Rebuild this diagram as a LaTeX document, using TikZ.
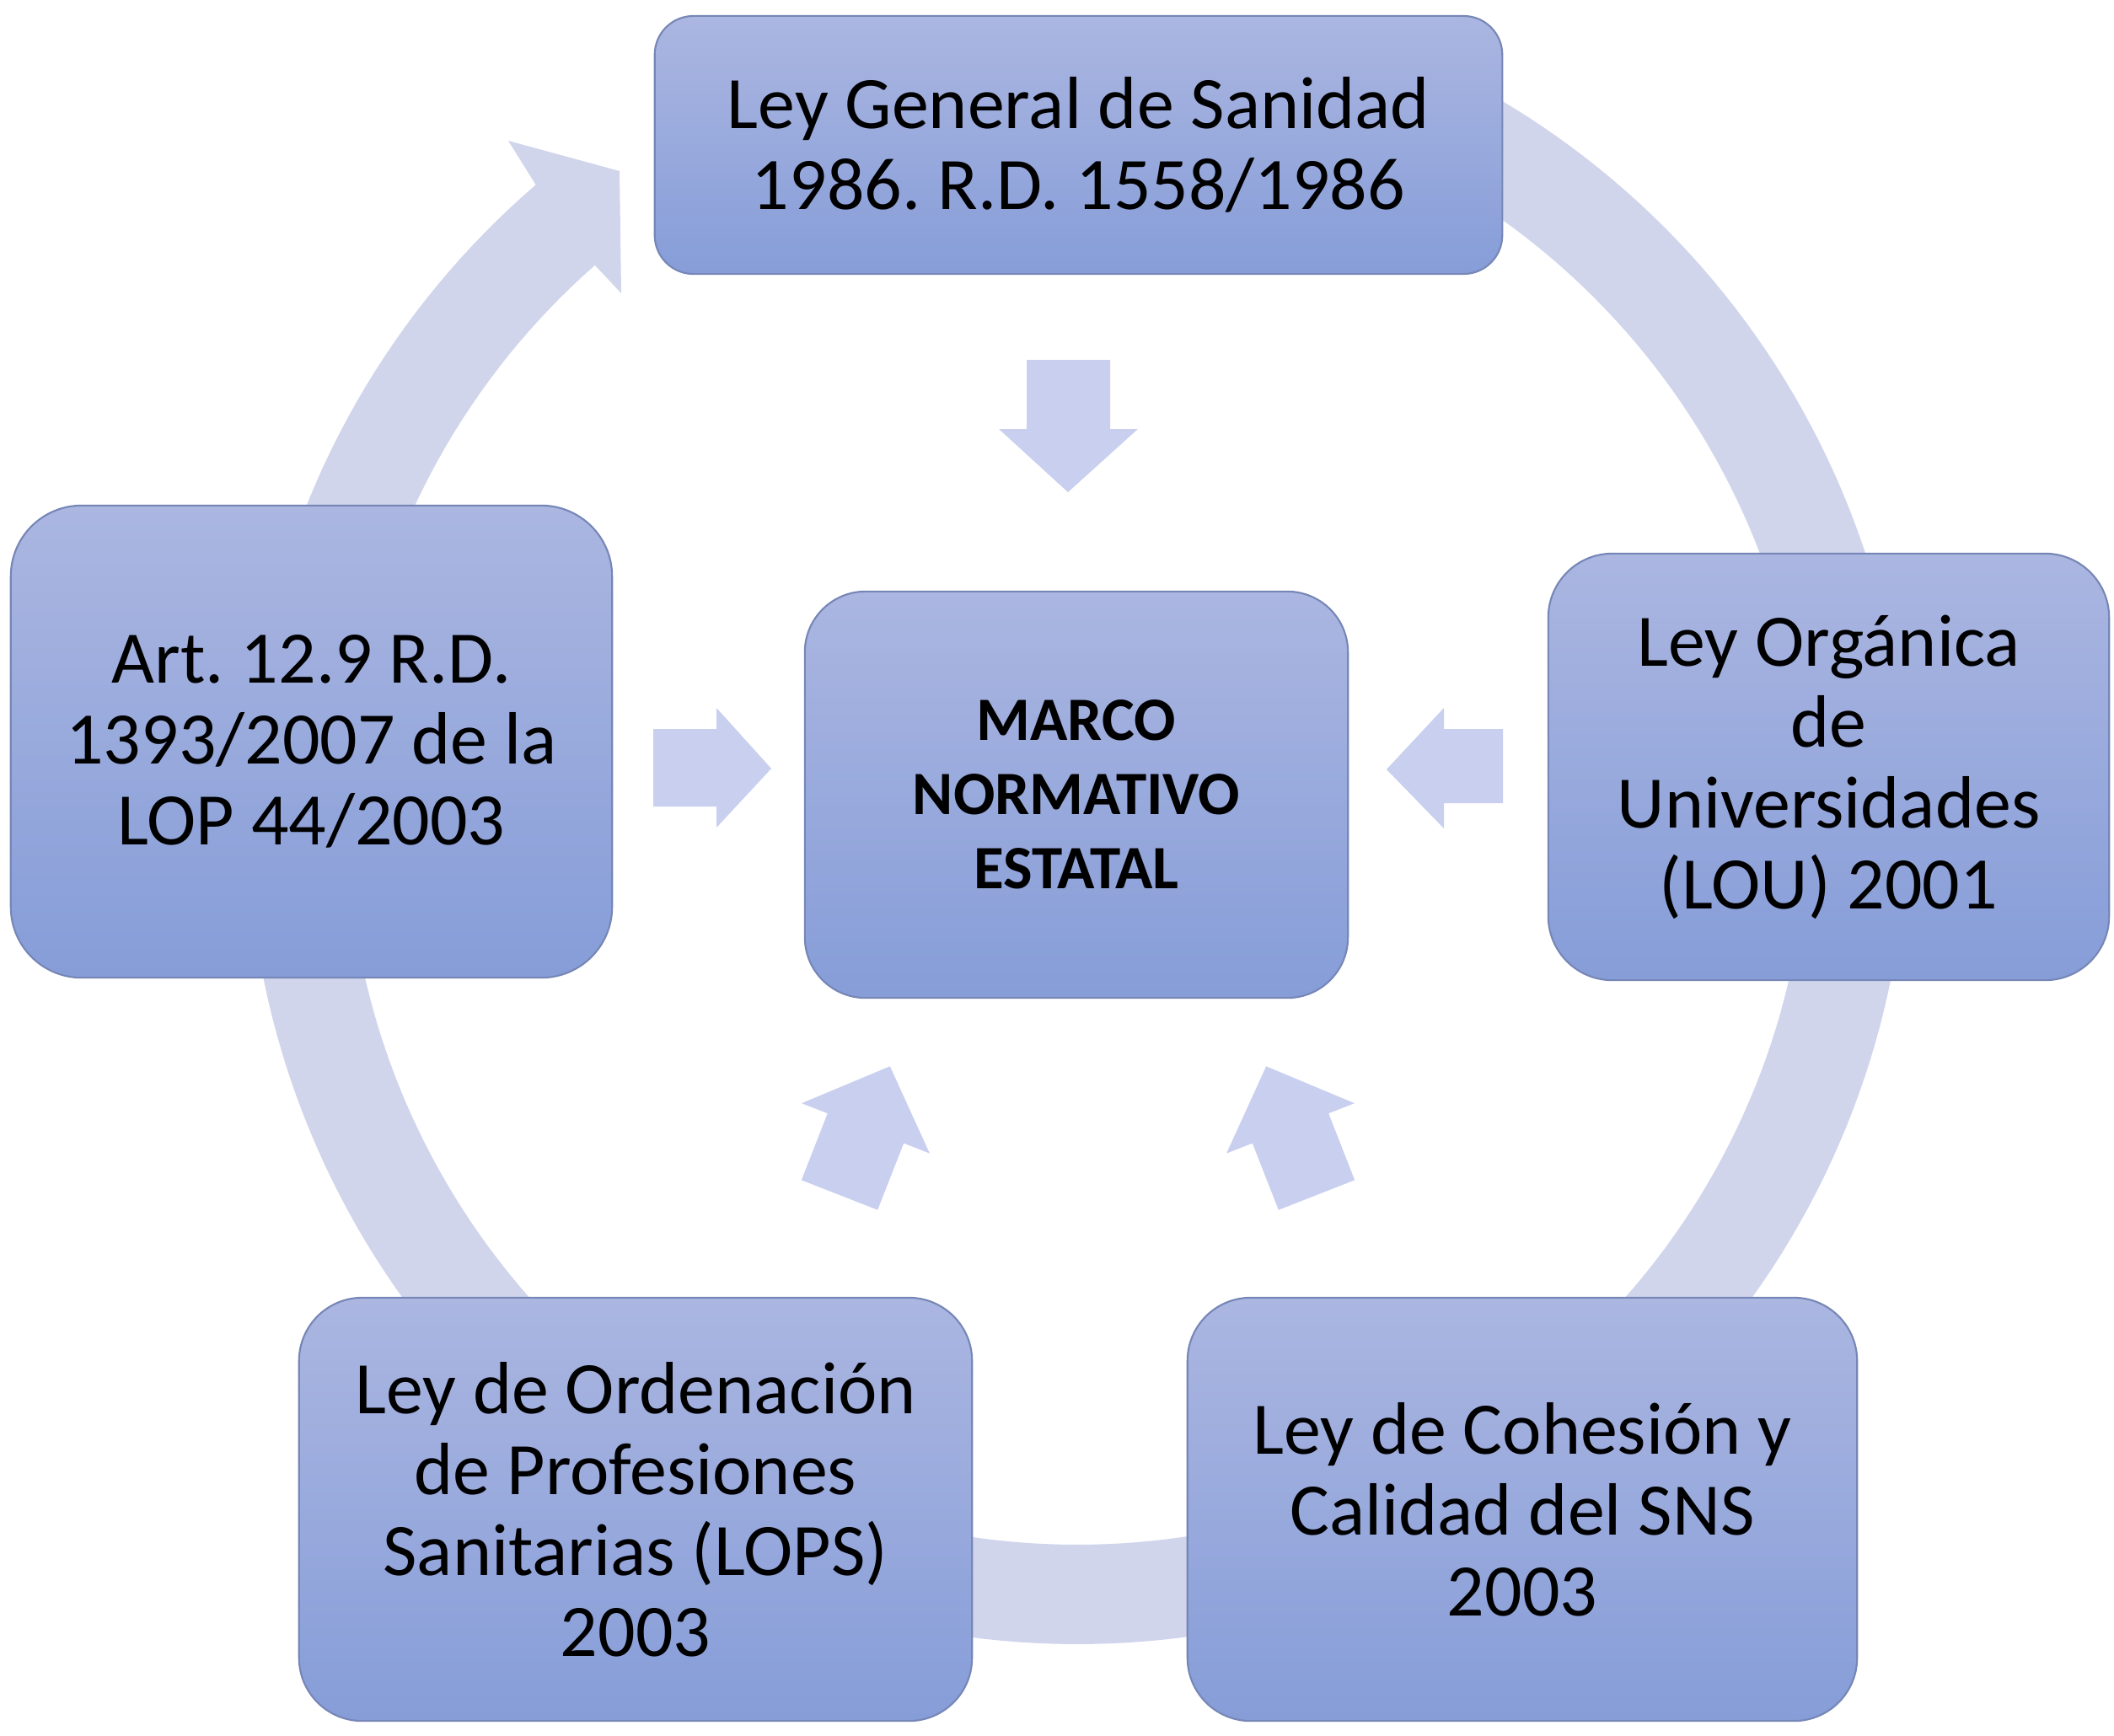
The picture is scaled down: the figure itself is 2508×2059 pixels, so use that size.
\documentclass[tikz,border=0pt]{standalone}
\usepackage{fontspec}
\setmainfont{Carlito}
\definecolor{ringc}{RGB}{208,213,236}
\definecolor{arrc}{RGB}{200,207,239}
\definecolor{boxtop}{RGB}{171,182,225}
\definecolor{boxbot}{RGB}{134,157,216}
\definecolor{boxline}{RGB}{118,134,182}
\tikzset{
  box/.style={rectangle, rounded corners=#1, top color=boxtop, bottom color=boxbot,
    draw=boxline, line width=0.6pt, align=center, inner sep=0pt, text=black,
    font=\frenchspacing\fontsize{25pt}{27.3pt}\selectfont},
  box/.default=0.75cm,
  blockarrow/.style={fill=arrc},
  ringstyle/.style={fill=ringc}
}
\frenchspacing
\begin{document}
\begin{tikzpicture}[x=0.01cm,y=-0.01cm]
\useasboundingbox (0,0) rectangle (2508,2059);
\clip (0,0) rectangle (2508,2059);
\fill[white] (0,0) rectangle (2508,2059);
\coordinate (rc) at (1278,966);
% circular arrow ring
\fill[ringstyle] plot[domain=-62:229.3, samples=240, variable=\t] ({1278+985*cos(\t)},{966+985*sin(\t)})
  -- (603,167) -- (735,203) -- (737,348)
  -- plot[domain=228.7:-62, samples=240, variable=\t] ({1278+867*cos(\t)},{966+867*sin(\t)}) -- cycle;
% block arrows towards the centre
\fill[blockarrow] (1218,427) -- (1317,427) -- (1317,509) -- (1350,509) -- (1267,584) -- (1185,509) -- (1218,509) -- cycle;
\fill[blockarrow] (775,865) -- (850,865) -- (850,840) -- (915,912) -- (850,982) -- (850,957) -- (775,957) -- cycle;
\fill[blockarrow] (1783,865) -- (1713,865) -- (1713,840) -- (1645,913) -- (1713,983) -- (1713,953) -- (1783,953) -- cycle;
\fill[blockarrow, shift={(996,1418)}, rotate=68.6] (0,-48.5) -- (85,-48.5) -- (85,-81.5) -- (164,0) -- (85,81.5) -- (85,48.5) -- (0,48.5) -- cycle;
\fill[blockarrow, shift={(1562,1418)}, rotate=111.4] (0,-48.5) -- (85,-48.5) -- (85,-81.5) -- (164,0) -- (85,81.5) -- (85,48.5) -- (0,48.5) -- cycle;
% boxes
\node[box=0.46cm, minimum width=10.05cm, minimum height=3.06cm] (top) at (1279.5,172) {Ley General de Sanidad\\1986. R.D. 1558/1986};
\node[box=0.72cm, minimum width=6.44cm, minimum height=4.82cm, font=\frenchspacing\bfseries\fontsize{20.8pt}{25pt}\selectfont] (mid) at (1277,943) {MARCO\\NORMATIVO\\ESTATAL};
\node[box=0.76cm, minimum width=6.65cm, minimum height=5.06cm] (lou) at (2169.5,910) {Ley Orgánica\\de\\Universidades\\(LOU) 2001};
\node[box=0.84cm, minimum width=7.13cm, minimum height=5.6cm] (art) at (369.5,880) {Art. 12.9 R.D.\\1393/2007 de la\\LOP 44/2003};
\node[box=0.75cm, minimum width=7.98cm, minimum height=5.02cm] (lops) at (754,1791) {Ley de Ordenación\\de Profesiones\\Sanitarias (LOPS)\\2003};
\node[box=0.75cm, minimum width=7.94cm, minimum height=5.02cm] (coh) at (1806,1791) {Ley de Cohesión y\\Calidad del SNS\\2003};
\end{tikzpicture}
\end{document}
